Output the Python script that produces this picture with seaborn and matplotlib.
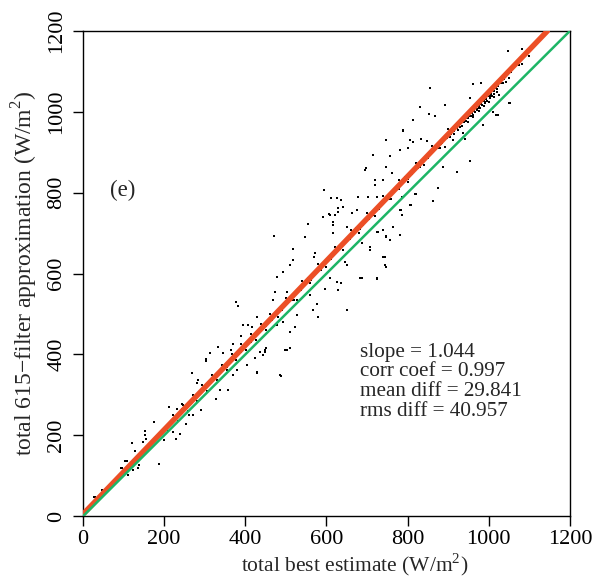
import matplotlib
matplotlib.use("Agg")
import matplotlib.pyplot as plt
import numpy as np
import pandas as pd
import seaborn as sns

# points below x = 300 (W/m2)
x_low = [12, 22, 30, 38, 47, 55, 63, 72, 80, 88, 95, 100,
         103, 109, 111, 115, 120, 123, 127, 132, 135, 139,
         142, 146, 148, 150, 152, 154, 156, 160, 165, 168,
         172, 175, 178, 182, 187, 190, 193, 196, 199, 200,
         203, 206, 208, 211, 213, 216, 218, 221, 224, 226,
         228, 231, 233, 236, 238, 241, 243, 245, 248, 250,
         253, 255, 258, 260, 263, 265, 268, 270, 272, 275,
         277, 280, 283, 285, 288, 290, 293, 295, 298, 300,
         213, 232, 245, 228, 238, 262, 271, 290, 255, 280,
         268, 284, 223, 199, 93, 27]
y_low = [18, 30, 48, 44, 64, 60, 70, 82, 86, 100, 118, 108,
         136, 136, 101, 125, 180, 114, 161, 140, 118, 126,
         152, 157, 184, 162, 211, 200, 192, 172, 176, 180,
         185, 233, 190, 196, 128, 202, 206, 210, 188, 215,
         215, 222, 220, 228, 226, 233, 230, 238, 236, 244,
         240, 249, 245, 254, 250, 259, 256, 264, 261, 269,
         266, 275, 272, 279, 277, 285, 283, 290, 286, 295,
         291, 300, 297, 306, 303, 311, 308, 317, 313, 322,
         269, 266, 277, 190, 204, 250, 250, 262, 228, 330,
         353, 336, 209, 188, 118, 48]

# main band along the fit line
x_band = [305, 312, 318, 324, 330, 336, 342, 348, 354, 360,
          366, 372, 378, 384, 390, 396, 402, 408, 414, 420,
          426, 432, 438, 444, 450, 458, 466, 474, 482, 490,
          498, 506, 514, 522, 530, 538, 546, 554, 562, 570,
          578, 586, 594, 602, 610, 618, 626, 634, 642, 650,
          658, 666, 674, 682, 690, 698, 706, 714, 722, 730,
          738, 746, 754, 762, 770, 778, 786, 794, 802, 810,
          818, 826, 834, 842, 850, 858, 866, 874, 882, 890,
          898, 906, 914, 922, 930, 938, 946, 952, 958, 964,
          970, 976, 982, 988, 994, 1000, 1006, 1012, 1018, 1024,
          1030, 1038, 1046, 1055]
y_band = [320, 328, 340, 339, 347, 360, 358, 366, 370, 384,
          383, 391, 395, 410, 407, 415, 420, 434, 430, 440,
          446, 452, 466, 462, 471, 488, 486, 497, 512, 510,
          521, 537, 535, 546, 562, 560, 571, 588, 585, 596,
          612, 610, 621, 637, 635, 646, 662, 660, 671, 688,
          685, 696, 712, 710, 721, 738, 735, 746, 763, 760,
          771, 788, 785, 796, 812, 810, 821, 838, 835, 846,
          862, 860, 871, 888, 885, 896, 912, 910, 921, 930,
          936, 944, 952, 960, 970, 975, 986, 990, 996, 1003,
          1008, 1015, 1020, 1028, 1032, 1040, 1045, 1052, 1058, 1065,
          1072, 1080, 1090, 1099]

# points hugging the edges of the fit line
x_edge = [210, 222, 234, 246, 258, 270, 282, 294, 306, 318,
          330, 342, 354, 366, 378, 390, 402, 414, 426, 438,
          450, 462, 480, 500, 520, 540, 560, 580, 600, 620,
          640, 660, 680, 700, 720, 740, 760, 780, 800, 820,
          840, 860, 880, 900, 915, 930, 945, 960, 975, 990,
          1005, 1020, 1035]
y_edge = [210, 250, 235, 275, 260, 300, 285, 325, 310, 350,
          336, 375, 361, 400, 386, 425, 411, 450, 436, 475,
          461, 500, 492, 540, 534, 582, 576, 623, 617, 665,
          659, 707, 701, 749, 743, 791, 784, 832, 826, 874,
          868, 916, 910, 958, 946, 962, 978, 993, 1009, 1025,
          1040, 1056, 1072]

# dense cluster just under the line near 1000
x_clust = [944, 950, 956, 960, 966, 972, 978, 984, 990, 996,
           1002, 1008, 1014, 1020, 948, 962, 975, 988, 1000, 1012,
           935, 925, 915, 905]
y_clust = [978, 985, 990, 993, 1000, 1004, 1010, 1016, 1022, 1027,
           1033, 1038, 1044, 1050, 975, 988, 1002, 1015, 1025, 1036,
           965, 955, 945, 938]

# scattered points above x = 300
x_scat = [376, 383, 395, 407, 416, 430, 370, 389, 332, 313,
          302, 302, 346, 364, 338, 358, 329, 370, 379, 403,
          428, 444, 451, 436, 485, 498, 510, 510, 494, 527,
          471, 592, 607, 617, 622, 628, 554, 547, 617, 650,
          728, 748, 707, 744, 518, 518, 510, 494, 477, 473,
          469, 502, 510, 523, 528, 567, 580, 522, 477, 609,
          625, 637, 629, 650, 650, 687, 646, 559, 596, 576,
          724, 744, 572, 569, 789, 748, 814, 832, 848, 781,
          801, 757, 715, 695, 698, 748, 761, 720, 720, 740,
          921, 888, 876, 863, 818, 806, 785, 783, 763, 740,
          747, 757, 724, 707, 687, 676, 703, 724, 785, 830,
          1083, 1048, 1100, 1075, 1083, 1050, 1043, 982, 962, 892,
          1050, 1011, 1023, 986, 937, 912, 884, 892, 955, 1003,
          855, 830, 814, 867, 852, 788, 806, 800, 955, 941,
          1019, 1052, 1025, 820, 808, 594, 610, 627, 635, 641,
          628, 608, 555, 616, 662, 677, 781, 724, 683, 740,
          748, 781, 487, 503, 448, 448, 424, 428]
y_scat = [530, 520, 473, 473, 468, 493, 427, 445, 419, 403,
          390, 384, 404, 412, 312, 313, 291, 349, 361, 374,
          355, 398, 415, 407, 349, 411, 415, 456, 481, 497,
          693, 741, 747, 728, 745, 752, 722, 691, 701, 716,
          703, 691, 658, 642, 662, 633, 621, 605, 592, 555,
          534, 555, 539, 550, 535, 510, 493, 468, 473, 588,
          580, 576, 559, 510, 621, 588, 629, 547, 563, 526,
          588, 621, 650, 640, 953, 930, 926, 932, 928, 905,
          910, 891, 893, 856, 860, 864, 848, 831, 818, 831,
          852, 864, 811, 780, 798, 769, 745, 757, 716, 708,
          693, 683, 703, 666, 676, 757, 790, 790, 790, 864,
          1155, 1151, 1139, 1116, 1118, 1083, 1075, 1071, 1068, 1017,
          1023, 1000, 992, 967, 947, 930, 922, 914, 1033, 1037,
          1060, 1013, 981, 990, 995, 955, 930, 910, 878, 934,
          992, 1023, 1042, 797, 769, 806, 786, 788, 781, 765,
          761, 745, 722, 720, 750, 790, 757, 586, 590, 642,
          617, 695, 347, 411, 410, 405, 392, 356]

fit_slope = 1.044
fit_intercept = 5.0
stats_lines = ["slope = 1.044", "corr coef = 0.997",
               "mean diff = 29.841", "rms diff = 40.957"]
ticks = [0, 200, 400, 600, 800, 1000, 1200]

df = pd.DataFrame({
    "best": x_low + x_band + x_edge + x_clust + x_scat,
    "approx": y_low + y_band + y_edge + y_clust + y_scat,
})

sns.set_style("ticks")
plt.rcParams["font.family"] = ["Liberation Serif", "DejaVu Serif"]
plt.rcParams["mathtext.fontset"] = "custom"
plt.rcParams["mathtext.rm"] = "Liberation Serif"

fig = plt.figure(figsize=(5.93, 5.80), dpi=100)
ax = fig.add_axes([0.140, 0.110, 0.821, 0.8366])

sns.scatterplot(data=df, x="best", y="approx", ax=ax, color="black",
                marker="s", s=4, linewidth=0, zorder=2)
ax.axline((0, fit_intercept), slope=fit_slope, color="#EC4F26", lw=3.9,
          solid_capstyle="round", zorder=3)
ax.axline((0, 0), slope=1, color="#1DB566", lw=1.8, zorder=4)

ax.set_xlim(0, 1200)
ax.set_ylim(0, 1200)
ax.set_xticks(ticks)
ax.set_yticks(ticks)
ax.tick_params(direction="out", length=7, width=1, colors="black",
               labelsize=16, pad=5)
ax.tick_params(axis="x", pad=3)
for lab in ax.get_yticklabels():
    lab.set_rotation(90)
    lab.set_va("center")
for sp in ax.spines.values():
    sp.set_visible(True)
    sp.set_color("black")
    sp.set_linewidth(1.0)

ax.set_xlabel("total best estimate (W/m$^2$)", fontsize=15.5)
ax.xaxis.set_label_coords(0.558, -0.073)
ax.set_ylabel("total 615\u2212filter approximation (W/m$^2$)", fontsize=17,
              labelpad=5)

ax.text(66, 806, "(e)", fontsize=16.5, va="center", ha="left")
for i, line in enumerate(stats_lines):
    ax.text(683, 406 - i * 49, line, fontsize=15.2, va="center", ha="left")

fig.savefig("out.png", dpi=100)
